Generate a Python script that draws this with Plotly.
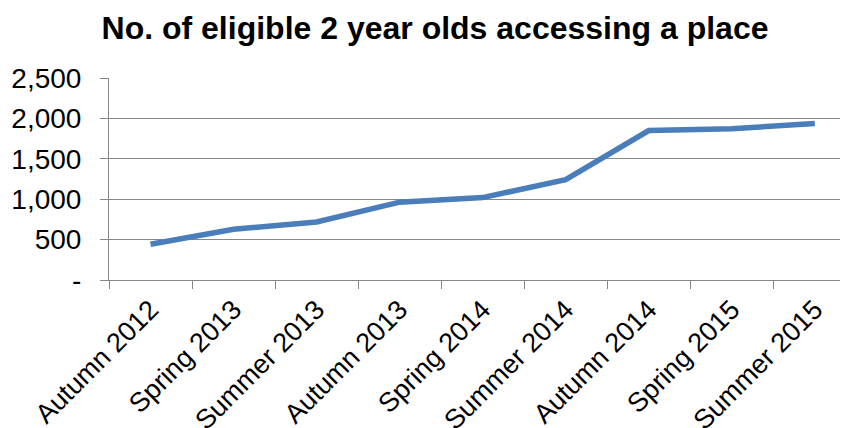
import plotly.graph_objects as go

categories = ["Autumn 2012", "Spring 2013", "Summer 2013", "Autumn 2013", "Spring 2014",
              "Summer 2014", "Autumn 2014", "Spring 2015", "Summer 2015"]
values = [443, 628, 718, 963, 1020, 1242, 1850, 1873, 1936]
y_ticks = [0, 500, 1000, 1500, 2000, 2500]
y_tick_labels = ["-", "500", "1,000", "1,500", "2,000", "2,500"]

fig = go.Figure()
fig.add_trace(go.Scatter(
    x=categories, y=values, mode="lines",
    line=dict(color="#4A7EBB", width=5.5),
    hoverinfo="skip", showlegend=False,
))

grid = "#878787"
# page has an 8px body margin, so the figure is sized/offset to compensate
fig.update_layout(
    width=840, height=420,
    margin=dict(l=101, r=0, t=70, b=148),
    paper_bgcolor="white", plot_bgcolor="white",
    font=dict(family="Liberation Sans, Arial, sans-serif", color="black"),
    title=dict(text="<b>No. of eligible 2 year olds accessing a place</b>",
               x=427 / 840, xanchor="center", y=1 - 20 / 420, yanchor="middle",
               font=dict(size=32, color="black")),
    xaxis=dict(
        type="category", categoryorder="array", categoryarray=categories,
        range=[-0.5, 8.40], automargin=False,
        tickangle=-45, tickfont=dict(size=27),
        showgrid=False, zeroline=False,
        showline=True, linecolor=grid, linewidth=1,
        ticks="outside", ticklen=8, tickcolor=grid, tickwidth=1,
        tickson="boundaries", ticklabelstandoff=2,
    ),
    yaxis=dict(
        range=[0, 2500], automargin=False,
        tickmode="array", tickvals=y_ticks, ticktext=y_tick_labels,
        tickfont=dict(size=28),
        showgrid=True, gridcolor=grid, gridwidth=1, zeroline=False,
        showline=True, linecolor=grid, linewidth=1,
        ticks="outside", ticklen=8, tickcolor=grid, tickwidth=1,
        ticklabelstandoff=13,
    ),
)
fig.write_html("out.html")
